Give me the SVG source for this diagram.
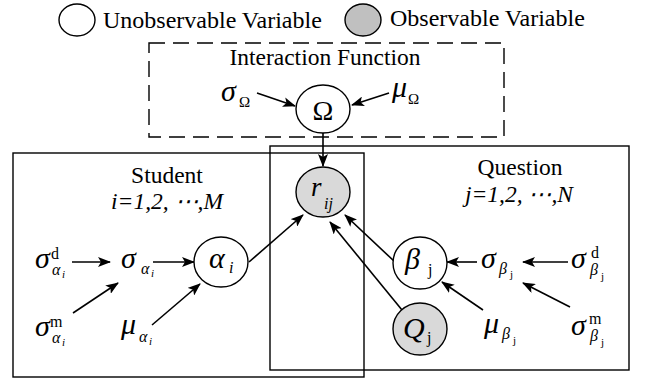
<svg xmlns="http://www.w3.org/2000/svg" width="646" height="381" viewBox="0 0 646 381">
<defs>
<marker id="ah" markerUnits="userSpaceOnUse" markerWidth="13" markerHeight="10" refX="12" refY="5" orient="auto">
<path d="M0,0 L13,5 L0,10 L3,5 Z" fill="#000"/>
</marker>
</defs>
<style>
text{font-family:"Liberation Serif","Times New Roman",serif;fill:#000}
.lbl{font-size:23.5px}
.leg{font-size:24px}
.it{font-style:italic}
.g{font-size:30px;font-style:italic}
.sup{font-size:16px}
.sub{font-size:16px;font-style:italic}
.ss{font-size:11px;font-style:italic}
.ssr{font-size:11px}
.node{fill:#fff;stroke:#000;stroke-width:1.4}
.obs{fill:#d9d9d9;stroke:#000;stroke-width:1.4}
.box{fill:none;stroke:#000;stroke-width:1.4}
.dash{fill:none;stroke:#000;stroke-width:1.4;stroke-dasharray:16 8}
.edge{fill:none;stroke:#000;stroke-width:1.6;marker-end:url(#ah)}
</style>
<rect width="646" height="381" fill="#fff"/>

<g id="legend">
<ellipse cx="77" cy="20" rx="18" ry="16" class="node"/>
<text x="103" y="28" class="leg">Unobservable Variable</text>
<ellipse cx="363" cy="20" rx="18" ry="16" fill="#c0c0c0" stroke="#000" stroke-width="1.4"/>
<text x="390" y="26" class="leg">Observable Variable</text>
</g>

<g id="plates">
<rect id="interaction-plate" x="149" y="43" width="355" height="94" class="dash"/>
<text x="325" y="65" class="lbl" text-anchor="middle">Interaction Function</text>
<rect id="student-plate" x="13" y="153" width="351" height="224" class="box"/>
<text x="167" y="183" class="lbl" text-anchor="middle">Student</text>
<text x="167" y="209" class="lbl it" text-anchor="middle">i=1,2, ⋯,M</text>
<rect id="question-plate" x="270" y="146" width="359" height="224" class="box"/>
<text x="520" y="175" class="lbl" text-anchor="middle">Question</text>
<text x="519" y="202" class="lbl it" text-anchor="middle">j=1,2, ⋯,N</text>
</g>

<g id="connectors">
<line x1="257" y1="93" x2="295" y2="106" class="edge"/>
<line x1="389" y1="93" x2="352" y2="105" class="edge"/>
<line x1="323" y1="133" x2="323" y2="166" class="edge"/>
<line x1="72" y1="262" x2="110" y2="262" class="edge"/>
<line x1="153" y1="262" x2="194" y2="262" class="edge"/>
<line x1="73" y1="313" x2="118" y2="283" class="edge"/>
<line x1="152" y1="325" x2="200" y2="284" class="edge"/>
<line x1="249" y1="262" x2="303" y2="215" class="edge"/>
<line x1="477" y1="262" x2="447" y2="262" class="edge"/>
<line x1="568" y1="262" x2="523" y2="262" class="edge"/>
<line x1="570" y1="307" x2="523" y2="283" class="edge"/>
<line x1="483" y1="310" x2="442" y2="282" class="edge"/>
<line x1="395" y1="262" x2="345" y2="215" class="edge"/>
<line x1="402" y1="310" x2="330" y2="222" class="edge"/>
</g>

<g id="omega">
<ellipse cx="323" cy="109" rx="27" ry="24" class="node"/>
<text x="323" y="120" font-size="28" text-anchor="middle">Ω</text>
</g>
<g id="sigma-omega">
<text x="221" y="101" class="g">σ</text>
<text x="239" y="107" font-size="15">Ω</text>
</g>
<g id="mu-omega">
<text x="392" y="97" class="g">μ</text>
<text x="408" y="104" font-size="15">Ω</text>
</g>

<g id="r-ij">
<ellipse cx="323" cy="192" rx="27" ry="25" class="obs"/>
<text x="311" y="196" font-size="27" font-style="italic">r</text>
<text x="324" y="209" class="sub">ij</text>
</g>

<g id="alpha-i">
<ellipse cx="221" cy="262" rx="27" ry="25" class="node"/>
<text x="209" y="268" class="g">α</text>
<text x="229" y="273" class="sub">i</text>
</g>
<g id="sigma-alpha">
<text x="121" y="268" class="g">σ</text>
<text x="141" y="274" class="sub">α</text>
<text x="151" y="277" class="ss">i</text>
</g>
<g id="sigma-d-alpha">
<text x="35" y="268" class="g">σ</text>
<text x="51" y="259" class="sup">d</text>
<text x="52" y="275" class="sub">α</text>
<text x="62" y="278" class="ss">i</text>
</g>
<g id="sigma-m-alpha">
<text x="35" y="336" class="g">σ</text>
<text x="50" y="327" class="sup">m</text>
<text x="52" y="343" class="sub">α</text>
<text x="62" y="346" class="ss">i</text>
</g>
<g id="mu-alpha">
<text x="121" y="334" class="g">μ</text>
<text x="139" y="342" class="sub">α</text>
<text x="149" y="345" class="ss">i</text>
</g>

<g id="beta-j">
<ellipse cx="420" cy="263" rx="27" ry="26" class="node"/>
<text x="405" y="269" class="g">β</text>
<text x="428" y="275" font-size="16">j</text>
</g>
<g id="q-j">
<ellipse cx="420" cy="329" rx="27" ry="26" class="obs"/>
<text x="403" y="338" class="g">Q</text>
<text x="427" y="343" font-size="16">j</text>
</g>
<g id="sigma-beta">
<text x="481" y="268" class="g">σ</text>
<text x="499" y="274" class="sub">β</text>
<text x="510" y="278" class="ssr">j</text>
</g>
<g id="sigma-d-beta">
<text x="571" y="268" class="g">σ</text>
<text x="591" y="258" class="sup">d</text>
<text x="590" y="275" class="sub">β</text>
<text x="601" y="280" class="ssr">j</text>
</g>
<g id="sigma-m-beta">
<text x="571" y="335" class="g">σ</text>
<text x="589" y="324" class="sup">m</text>
<text x="590" y="341" class="sub">β</text>
<text x="601" y="346" class="ssr">j</text>
</g>
<g id="mu-beta">
<text x="484" y="333" class="g">μ</text>
<text x="502" y="339" class="sub">β</text>
<text x="513" y="344" class="ssr">j</text>
</g>
</svg>
